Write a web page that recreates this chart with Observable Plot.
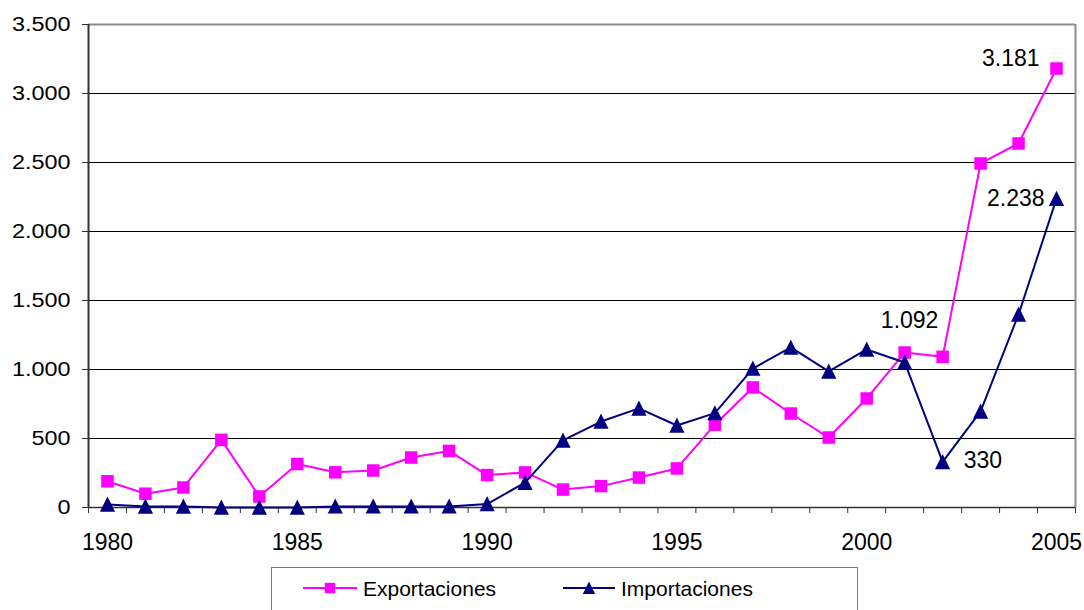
<!DOCTYPE html>
<html><head><meta charset="utf-8">
<script src="https://cdn.jsdelivr.net/npm/d3@7"></script>
<script src="https://cdn.jsdelivr.net/npm/@observablehq/plot@0.6"></script>
<style>
body{margin:0;background:#fff;font-family:Arial,"Liberation Sans",sans-serif;}
#wrap{position:relative;width:1084px;height:610px;overflow:hidden;background:#fff;}
#legend{position:absolute;left:271px;top:567px;width:587px;height:70px;border:1px solid #7a7a7a;box-sizing:border-box;background:#fff;}
#legend svg{display:block;}
svg text{font-family:Arial,"Liberation Sans",sans-serif;}
</style></head><body><div id="wrap"><div id="chart"></div><div id="legend"></div></div>
<script>
// ---- data ----
const years = [1980,1981,1982,1983,1984,1985,1986,1987,1988,1989,1990,1991,1992,1993,1994,1995,1996,1997,1998,1999,2000,2001,2002,2003,2004,2005];
const exportaciones = [190,100,145,490,80,315,255,268,362,410,235,254,130,155,217,283,600,870,681,507,790,1123,1092,2493,2638,3181];
const importaciones = [22,7,7,0,0,0,8,8,8,8,25,180,486,623,718,594,684,1007,1160,986,1145,1051,330,696,1399,2238];
const seriesNames = ["Exportaciones","Importaciones"];
const seriesColors = ["#FF00FF","#000080"];
const yTicks = [0,500,1000,1500,2000,2500,3000,3500];
const xLabelYears = [1980,1985,1990,1995,2000,2005];
const labelSeries = ["Exportaciones","Exportaciones","Importaciones","Importaciones"];
const labelYears = [2005,2002,2005,2002];

// ---- build table ----
const seriesValues = [exportaciones, importaciones];
const data = [];
seriesNames.forEach((s,i)=>years.forEach((y,j)=>data.push({series:s, year:y, value:seriesValues[i][j]})));
const labelData = labelSeries.map((s,i)=>data.find(d=>d.series===s && d.year===labelYears[i]));
const fmt = d3.formatLocale({decimal:",", thousands:".", grouping:[3], currency:["",""]}).format(",");
const xBounds = d3.range(years[0]-0.5, years[years.length-1]+1, 1);

const squareSym = {draw(ctx,size){const r=Math.sqrt(size/Math.PI); ctx.rect(-r,-r,2*r,2*r);}};
const triSym = {draw(ctx,size){const r=Math.sqrt(size/Math.PI); ctx.moveTo(0,-r*1.05); ctx.lineTo(r,r*0.95); ctx.lineTo(-r,r*0.95); ctx.closePath();}};
const symbols = [squareSym, triSym];
const symbolR = [6.25, 7.6];
const legendR = [5.2, 6.2];

// label placement (presentation)
const placement = [
  {dx:-17, dy:-10, textAnchor:"end"},
  {dx:-33, dy:-36, textAnchor:"middle"},
  {dx:-12, dy:0, textAnchor:"end"},
  {dx:21, dy:-1, textAnchor:"start"}
];
const FONT = 'Arial, "Liberation Sans", sans-serif';

const seriesMarks = seriesNames.flatMap((s,i)=>{
  const sub = data.filter(d=>d.series===s);
  return [
    Plot.line(sub, {x:"year", y:"value", stroke:seriesColors[i], strokeWidth:2}),
    Plot.dot(sub, {x:"year", y:"value", fill:seriesColors[i], symbol:symbols[i], r:symbolR[i]})
  ];
});
const labelMarks = labelData.map((d,i)=>Plot.text([d], {x:"year", y:"value", text:d=>fmt(d.value), fill:"#000", fontSize:23, fontFamily:FONT, lineAnchor:"middle", ...placement[i]}));

const plot = Plot.plot({
  width:1084, height:560,
  marginLeft:88, marginRight:9, marginTop:24, marginBottom:53,
  style:{fontFamily:FONT, fontSize:"23px", color:"#000", background:"#fff", overflow:"visible"},
  x:{domain:[years[0]-0.5, years[years.length-1]+0.5], label:null},
  y:{domain:[0,3500], label:null},
  marks:[
    Plot.gridY(yTicks.filter(d=>d>0 && d<3500), {stroke:"#000", strokeOpacity:1, strokeWidth:1}),
    Plot.ruleY([3500], {stroke:"#8c8c8c", strokeWidth:2}),
    Plot.ruleX([xBounds[xBounds.length-1]], {stroke:"#8c8c8c", strokeWidth:2}),
    Plot.axisY(yTicks, {tickSize:6, tickPadding:12, tickFormat:fmt, fontSize:19.5, fontFamily:FONT, label:null, stroke:"#333"}),
    Plot.axisX(xBounds, {tickSize:6, tickFormat:()=>"", label:null, stroke:"#333"}),
    Plot.axisX(xLabelYears, {tickSize:0, tickPadding:26, tickFormat:d=>String(d), fontSize:23, fontFamily:FONT, label:null}),
    Plot.ruleX([xBounds[0]], {stroke:"#333", strokeWidth:2}),
    Plot.ruleY([0], {stroke:"#333", strokeWidth:1.5}),
    ...seriesMarks,
    ...labelMarks
  ]
});
document.getElementById("chart").append(plot);

// stretch y tick labels horizontally (matches the wide digits of the original)
function stretch(t, sx, sy){
  const bb = t.getBBox();
  const tl = t.transform.baseVal;
  const m = tl.numberOfItems ? tl.consolidate().matrix : plot.createSVGMatrix();
  const anchor = getComputedStyle(t).textAnchor;
  const lx = anchor==="end" ? bb.x+bb.width : anchor==="middle" ? bb.x+bb.width/2 : bb.x;
  const ly = bb.y+bb.height/2;
  const ax = m.a*lx + m.c*ly + m.e, ay = m.b*lx + m.d*ly + m.f;
  const g = document.createElementNS("http://www.w3.org/2000/svg","g");
  g.setAttribute("transform", `translate(${ax},${ay}) scale(${sx},${sy}) translate(${-ax},${-ay})`);
  t.parentNode.insertBefore(g,t); g.appendChild(t);
}
let ylabels = plot.querySelectorAll('g[aria-label="y-axis tick label"] text');
ylabels.forEach(t=>stretch(t,1.2,1));

// legend
const leg = d3.select("#legend").append("svg").attr("width",585).attr("height",60)
  .style("font-family",FONT);
const legX = [31, 291];
seriesNames.forEach((s,i)=>{
  const g = leg.append("g").attr("transform",`translate(${legX[i]},20)`);
  const w = i===0 ? 54 : 52;
  g.append("line").attr("x1",0).attr("x2",w).attr("y1",0).attr("y2",0).attr("stroke",seriesColors[i]).attr("stroke-width",2);
  g.append("path").attr("transform",`translate(${w/2},0)`).attr("fill",seriesColors[i])
    .attr("d", d3.symbol(symbols[i], Math.PI*legendR[i]*legendR[i])());
  g.append("text").attr("x", w+6).attr("y",0).attr("dominant-baseline","central")
    .attr("font-size",21).attr("fill","#000").text(s);
});
</script></body></html>
